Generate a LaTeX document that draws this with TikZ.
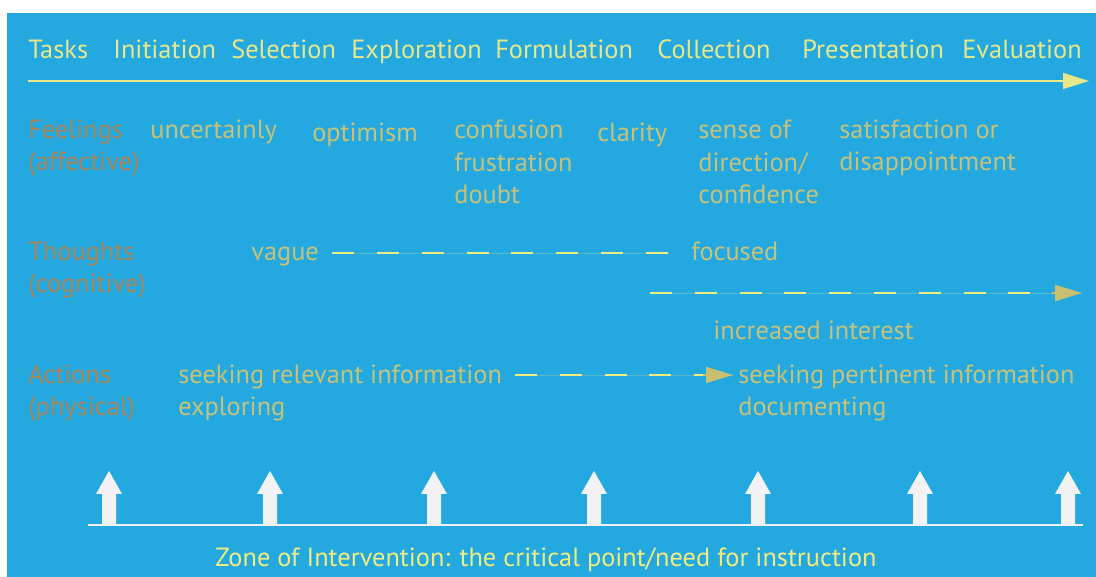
\documentclass[tikz,border=0pt]{standalone}
\usepackage{fontspec}
\setmainfont{PT Sans}
\usetikzlibrary{arrows.meta}
\definecolor{skyblue}{RGB}{36,168,224}
\definecolor{headyellow}{RGB}{232,232,138}
\definecolor{dashyellow}{RGB}{240,236,128}
\definecolor{olivetext}{RGB}{198,194,122}
\definecolor{tiptext}{RGB}{200,192,112}
\definecolor{browntext}{RGB}{166,134,90}
\definecolor{arrowwhite}{RGB}{242,242,245}

\begin{document}
\begin{tikzpicture}[line cap=butt,line join=miter,x=0.02cm,y=-0.02cm,
    every node/.style={inner sep=0pt,font=\fontsize{15}{18.5}\selectfont},
    task/.style={anchor=base west,color=headyellow},
    rowlabel/.style={anchor=base west,color=browntext,align=left},
    phase/.style={anchor=base west,color=olivetext,align=left},
    dashline/.style={color=dashyellow,line width=1.1pt,dash pattern=on 12.5pt off 13pt},
    faintline/.style={color=dashyellow,opacity=0.25,line width=0.3pt},
    dashtip/.style={-{Triangle[length=0.54cm,width=0.32cm]},color=tiptext,line width=1.1pt,solid}]

    % background
    \fill[white] (0,0) rectangle (1096,577);
    \fill[skyblue] (7,13) rectangle (1096,577);

    % tasks
    \node[task] (tasks) at (28,59) {Tasks};
    \node[task] (initiation) at (113,59) {Initiation};
    \node[task] (selection) at (231,59) {Selection};
    \node[task] (exploration) at (351,59) {Exploration};
    \node[task] (formulation) at (495,59) {Formulation};
    \node[task] (collection) at (657,59) {Collection};
    \node[task] (presentation) at (802,59) {Presentation};
    \node[task] (evaluation) at (962,59) {Evaluation};
    \coordinate (timestart) at (28,81);
    \coordinate (timeend) at (1089,81);
    \draw[-{Triangle[length=0.52cm,width=0.32cm]},line width=0.85pt,color=headyellow] (timestart) -- (timeend);

    % feelings (base = last line)
    \node[rowlabel] (feelings) at (28,171) {Feelings\\(affective)};
    \node[phase] (uncertainly) at (150,139) {uncertainly};
    \node[phase] (optimism) at (312,142) {optimism};
    \node[phase] (confusion) at (454,204) {confusion\\frustration\\doubt};
    \node[phase] (clarity) at (597,142) {clarity};
    \node[phase] (direction) at (698,204) {sense of\\direction/\\confidence};
    \node[phase] (satisfaction) at (839,171) {satisfaction or\\disappointment};

    % thoughts
    \node[rowlabel] (thoughts) at (28,293) {Thoughts\\(cognitive)};
    \node[phase] (vague) at (251,261) {vague};
    \node[phase] (focused) at (691,261) {focused};
    \draw[faintline] ([xshift=0.26cm,yshift=4.5pt]vague.base east) -- ([xshift=-0.42cm,yshift=4.5pt]focused.base west);
    \draw[dashline] ([xshift=0.26cm,yshift=4.5pt]vague.base east) -- ([xshift=-0.42cm,yshift=4.5pt]focused.base west);
    \coordinate (intereststart) at (650,293);
    \coordinate (interestend) at (1082,293);
    \draw[faintline] (intereststart) -- (interestend);
    \draw[dashline] (intereststart) -- (1056,293);
    \draw[dashtip] (1052,293) -- (interestend);
    \node[phase] (interest) at (713,340) {increased interest};

    % actions
    \node[rowlabel] (actions) at (28,416) {Actions\\(physical)};
    \node[phase] (relevant) at (178,416) {seeking relevant information\\exploring};
    \node[phase] (pertinent) at (738,416) {seeking pertinent information\\documenting};
    \coordinate (seekstart) at (515,375);
    \coordinate (seekend) at (733,375);
    \draw[faintline] (seekstart) -- (seekend);
    \draw[dashline] (seekstart) -- (708,375);
    \draw[dashtip] (703,375) -- (seekend);

    % zone of intervention
    \draw[line width=1.2pt,color=arrowwhite] (88,525) -- (1083,525);
    \foreach \x in {109,270,434,594,758,920,1068}
        \fill[arrowwhite] (\x-7,525) -- (\x-7,494) -- (\x-13,494) -- (\x,471) -- (\x+13,494) -- (\x+7,494) -- (\x+7,525) -- cycle;
    \node[anchor=base,color=dashyellow] (zone) at (546,566) {Zone of Intervention: the critical point/need for instruction};
\end{tikzpicture}
\end{document}
